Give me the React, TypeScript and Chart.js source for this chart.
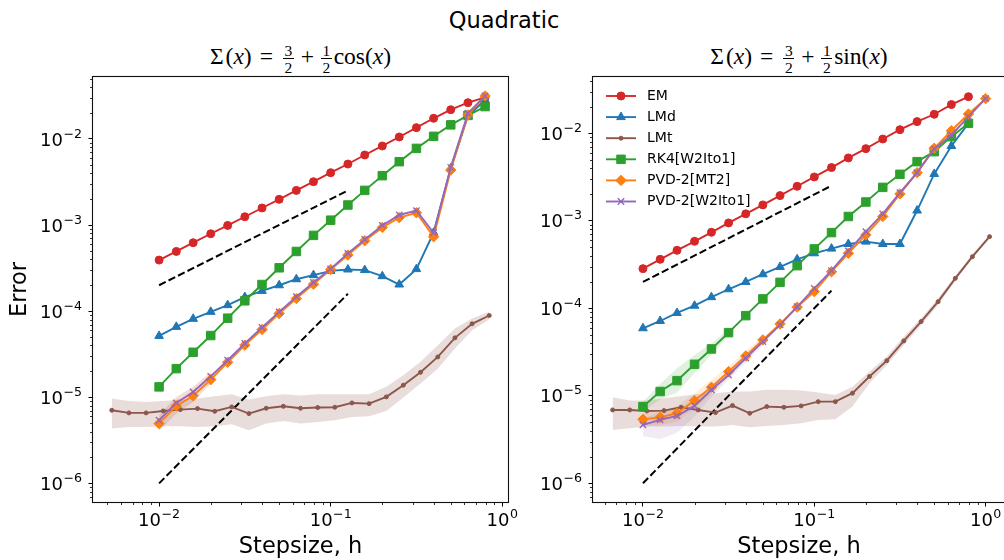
import React, { useEffect, useRef } from "react";
import { Chart, registerables } from "chart.js";
import { drawPoint } from "chart.js/helpers";

Chart.register(...registerables);
Chart.defaults.font.family = '"DejaVu Sans", sans-serif';
Chart.defaults.color = "#000";

// ---------------- data ----------------
const H = [0.01, 0.0126, 0.0158, 0.02, 0.0251, 0.0316, 0.0398, 0.0501, 0.0631, 0.0794, 0.1, 0.126, 0.158, 0.2, 0.251, 0.316, 0.398, 0.501, 0.631, 0.794];
const H_EXT = [0.01, 0.0126, 0.0158, 0.02, 0.0251, 0.0316, 0.0398, 0.0501, 0.0631, 0.0794, 0.1, 0.126, 0.158, 0.2, 0.251, 0.316, 0.398, 0.501, 0.631, 0.794, 1.0];

// left panel: Sigma(x) = 3/2 + 1/2 cos(x)
const COS_EM = [3.92e-4, 4.94e-4, 6.24e-4, 7.93e-4, 9.91e-4, 1.25e-3, 1.58e-3, 1.99e-3, 2.53e-3, 3.19e-3, 4.06e-3, 5.12e-3, 6.52e-3, 8.3e-3, 1.055e-2, 1.355e-2, 1.74e-2, 2.19e-2, 2.64e-2, 3.05e-2];
const COS_LMD = [5.16e-5, 6.57e-5, 8.15e-5, 9.82e-5, 1.175e-4, 1.456e-4, 1.72e-4, 2.0e-4, 2.35e-4, 2.62e-4, 2.94e-4, 3.05e-4, 3.0e-4, 2.55e-4, 2.04e-4, 3.08e-4, 8.15e-4, 4.56e-3, 1.85e-2, 2.84e-2];
const COS_LMT_H = [0.0053, 0.00667, 0.0084, 0.01057, 0.0133, 0.01675, 0.0211, 0.0265, 0.0334, 0.0421, 0.053, 0.0667, 0.084, 0.1057, 0.133, 0.1675, 0.211, 0.265, 0.334, 0.421, 0.53, 0.667, 0.84];
const COS_LMT = [7.06e-6, 6.58e-6, 6.58e-6, 6.93e-6, 7.19e-6, 7.38e-6, 6.87e-6, 7.72e-6, 6.46e-6, 7.45e-6, 7.85e-6, 7.45e-6, 7.59e-6, 7.65e-6, 8.59e-6, 8.43e-6, 1.01e-5, 1.38e-5, 1.95e-5, 2.94e-5, 4.9e-5, 7.13e-5, 8.91e-5];
const COS_LMT_HI = [9.64e-6, 9.06e-6, 8.82e-6, 9.06e-6, 9.4e-6, 9.64e-6, 1.03e-5, 1.08e-5, 9.4e-6, 1.03e-5, 1.08e-5, 1.045e-5, 1.08e-5, 1.08e-5, 1.08e-5, 1.08e-5, 1.32e-5, 1.8e-5, 2.58e-5, 4.03e-5, 6.28e-5, 8.22e-5, 9.82e-5];
const COS_LMT_LO = [4.33e-6, 4.52e-6, 4.52e-6, 4.6e-6, 4.6e-6, 4.52e-6, 4.6e-6, 4.85e-6, 4.13e-6, 4.94e-6, 5.31e-6, 4.94e-6, 5.16e-6, 5.41e-6, 5.91e-6, 6.01e-6, 6.93e-6, 9.91e-6, 1.44e-5, 2.15e-5, 3.68e-5, 6.01e-5, 8.0e-5];
const COS_RK4 = [1.32e-5, 2.15e-5, 3.33e-5, 5.21e-5, 8.29e-5, 1.32e-4, 2.04e-4, 3.19e-4, 4.94e-4, 7.59e-4, 1.14e-3, 1.71e-3, 2.53e-3, 3.75e-3, 5.45e-3, 7.78e-3, 1.074e-2, 1.46e-2, 1.88e-2, 2.38e-2];
const COS_PVD_MT2 = [4.94e-6, 7.93e-6, 1.04e-5, 1.6e-5, 2.55e-5, 4.03e-5, 6.12e-5, 9.4e-5, 1.4e-4, 2.06e-4, 3.05e-4, 4.48e-4, 6.58e-4, 9.4e-4, 1.22e-3, 1.39e-3, 7.31e-4, 4.36e-3, 1.9e-2, 3.16e-2];
const COS_PVD_W2 = [5.41e-6, 8.59e-6, 1.15e-5, 1.75e-5, 2.69e-5, 4.21e-5, 6.46e-5, 9.82e-5, 1.47e-4, 2.15e-4, 3.1e-4, 4.69e-4, 6.81e-4, 9.91e-4, 1.31e-3, 1.47e-3, 8.15e-4, 4.69e-3, 1.99e-2, 3.16e-2];
const COS_PVD_HI = [6.18e-6, 1.01e-5, 1.32e-5, 1.97e-5];
const COS_PVD_LO = [4.06e-6, 6.46e-6, 8.83e-6, 1.44e-5];

// right panel: Sigma(x) = 3/2 + 1/2 sin(x)
const SIN_EM = [2.84e-4, 3.63e-4, 4.6e-4, 5.83e-4, 7.39e-4, 9.45e-4, 1.2e-3, 1.52e-3, 1.94e-3, 2.48e-3, 3.17e-3, 4.06e-3, 5.23e-3, 6.68e-3, 8.61e-3, 1.1e-2, 1.36e-2, 1.65e-2, 2.13e-2, 2.62e-2];
const SIN_LMD = [5.91e-5, 7.16e-5, 8.84e-5, 1.07e-4, 1.34e-4, 1.65e-4, 2.0e-4, 2.45e-4, 2.97e-4, 3.63e-4, 4.25e-4, 4.81e-4, 5.43e-4, 5.78e-4, 5.43e-4, 5.43e-4, 1.31e-3, 3.43e-3, 7.16e-3, 1.3e-2];
const SIN_LMT_H = [0.00665, 0.00837, 0.01054, 0.01327, 0.0167, 0.021, 0.0265, 0.0333, 0.042, 0.0528, 0.0665, 0.0837, 0.1054, 0.1327, 0.167, 0.21, 0.265, 0.333, 0.42, 0.528, 0.665, 0.837, 1.054];
const SIN_LMT = [6.89e-6, 6.89e-6, 6.71e-6, 6.77e-6, 7.39e-6, 6.89e-6, 6.43e-6, 7.73e-6, 6.31e-6, 7.52e-6, 7.39e-6, 7.66e-6, 8.57e-6, 8.57e-6, 1.07e-5, 1.66e-5, 2.52e-5, 4.24e-5, 7.05e-5, 1.19e-4, 2.2e-4, 3.89e-4, 6.59e-4];
const SIN_LMT_HI = [9.61e-6, 8.81e-6, 8.81e-6, 9.36e-6, 9.95e-6, 1.05e-5, 1.07e-5, 1.12e-5, 1.12e-5, 1.17e-5, 1.17e-5, 1.15e-5, 1.09e-5, 1.02e-5, 1.27e-5, 1.89e-5, 2.81e-5, 4.75e-5, 7.69e-5, 1.3e-4, 2.34e-4, 4.14e-4, 6.89e-4];
const SIN_LMT_LO = [4.07e-6, 4.26e-6, 4.45e-6, 4.45e-6, 4.52e-6, 4.45e-6, 4.45e-6, 4.65e-6, 4.37e-6, 4.52e-6, 4.65e-6, 4.85e-6, 5.3e-6, 5.38e-6, 7.52e-6, 1.39e-5, 2.25e-5, 3.81e-5, 6.46e-5, 1.09e-4, 2.07e-4, 3.7e-4, 6.31e-4];
const SIN_RK4 = [7.52e-6, 1.12e-5, 1.49e-5, 2.29e-5, 3.43e-5, 5.27e-5, 8.24e-5, 1.28e-4, 1.98e-4, 3.07e-4, 4.77e-4, 7.33e-4, 1.12e-3, 1.64e-3, 2.41e-3, 3.4e-3, 4.74e-3, 6.17e-3, 9.16e-3, 1.3e-2];
const SIN_RK4_HI = [8.57e-6, 1.36e-5, 2.06e-5, 2.93e-5, 3.98e-5, 5.75e-5];
const SIN_RK4_LO = [6.59e-6, 9.12e-6, 1.09e-5, 1.81e-5, 2.95e-5, 4.83e-5];
const SIN_PVD_MT2 = [5.38e-6, 5.67e-6, 6.31e-6, 8.81e-6, 1.25e-5, 1.89e-5, 2.85e-5, 4.35e-5, 6.62e-5, 1.03e-4, 1.55e-4, 2.62e-4, 4.25e-4, 6.89e-4, 1.12e-3, 2.03e-3, 3.55e-3, 6.74e-3, 1.07e-2, 1.66e-2, 2.49e-2];
const SIN_PVD_MT2_HI = [6.31e-6, 6.76e-6, 7.66e-6, 1.07e-5, 1.52e-5, 2.19e-5, 3.2e-5, 4.75e-5];
const SIN_PVD_MT2_LO = [4.52e-6, 4.65e-6, 5.07e-6, 7.19e-6, 1.05e-5, 1.63e-5, 2.57e-5, 3.98e-5];
const SIN_PVD_W2 = [4.65e-6, 5.3e-6, 5.89e-6, 7.66e-6, 1.17e-5, 1.73e-5, 2.69e-5, 4.16e-5, 6.46e-5, 1.04e-4, 1.69e-4, 2.69e-4, 4.52e-4, 7.52e-4, 1.2e-3, 2.1e-3, 3.55e-3, 6.62e-3, 9.57e-3, 1.55e-2, 2.49e-2];
const SIN_PVD_W2_HI = [5.53e-6, 6.43e-6, 7.02e-6, 9.12e-6, 1.33e-5, 1.97e-5, 3.01e-5, 4.54e-5];
const SIN_PVD_W2_LO = [3.48e-6, 3.18e-6, 3.79e-6, 5.78e-6, 9.77e-6, 1.52e-5, 2.39e-5, 3.81e-5];

// reference slopes (order 1 and order 2)
const REF_H = [0.01, 0.126];
const REF_ORDER1 = [2.0e-4, 2.52e-3];
const REF_ORDER2 = [1.0e-6, 1.59e-4];

// tick labels (10^exponent)
const X_DECADES = [0.01, 0.1, 1];
const X_DECADE_EXPS = ["\u22122", "\u22121", "0"];
const Y_DECADES = [1e-6, 1e-5, 1e-4, 1e-3, 1e-2];
const Y_DECADE_EXPS = ["\u22126", "\u22125", "\u22124", "\u22123", "\u22122"];
const TICK_BASE = "10";

const TITLE = "Quadratic";
const X_LABEL = "Stepsize, h";
const Y_LABEL = "Error";

// ---------------- styling ----------------
const C = {
  red: "#d62728",
  blue: "#1f77b4",
  brown: "#8c564b",
  green: "#2ca02c",
  orange: "#ff7f0e",
  purple: "#9467bd",
};

const pts = (xs: number[], ys: number[]) => ys.map((y, i) => ({ x: xs[i], y }));

function series(label: string, xs: number[], ys: number[], color: string, style: string, radius: number, order: number, pbw = 1) {
  return {
    label,
    data: pts(xs, ys),
    borderColor: color,
    backgroundColor: color,
    borderWidth: 1.9,
    pointStyle: style,
    pointRadius: radius,
    pointHoverRadius: radius,
    pointBorderColor: color,
    pointBackgroundColor: color,
    pointBorderWidth: pbw,
    fill: false,
    tension: 0,
    order,
  };
}

function band(xs: number[], lo: number[], hi: number[], rgba: string, order: number) {
  return [
    {
      label: "_band",
      data: pts(xs, hi),
      borderColor: "rgba(0,0,0,0)",
      borderWidth: 0,
      pointRadius: 0,
      backgroundColor: rgba,
      fill: "+1",
      tension: 0,
      order,
    },
    {
      label: "_band",
      data: pts(xs, lo),
      borderColor: "rgba(0,0,0,0)",
      borderWidth: 0,
      pointRadius: 0,
      backgroundColor: "rgba(0,0,0,0)",
      fill: false,
      tension: 0,
      order,
    },
  ];
}

function refLine(ys: number[]) {
  return {
    label: "_ref",
    data: pts(REF_H, ys),
    borderColor: "#000",
    borderWidth: 2,
    borderDash: [7.4, 3.2],
    pointRadius: 0,
    fill: false,
    tension: 0,
    order: 7,
  };
}

const isDecade = (v: number) => Math.abs(Math.log10(v) - Math.round(Math.log10(v))) < 1e-9;

function logTicks(min: number, max: number) {
  const out: { value: number }[] = [];
  const e0 = Math.floor(Math.log10(min));
  const e1 = Math.ceil(Math.log10(max));
  for (let e = e0; e <= e1; e++) {
    for (let m = 1; m <= 9; m++) {
      const v = m * Math.pow(10, e);
      if (v >= min * (1 - 1e-9) && v <= max * (1 + 1e-9)) out.push({ value: v });
    }
  }
  return out;
}

function expFor(v: number, decades: number[], exps: string[]) {
  for (let i = 0; i < decades.length; i++) if (Math.abs(v / decades[i] - 1) < 1e-6) return exps[i];
  return null;
}

const BASE_FONT = '18px "DejaVu Sans"';
const EXP_FONT = '12.6px "DejaVu Sans"';
const EXP_RAISE = 8;

function drawPow(ctx: CanvasRenderingContext2D, exp: string, x: number, baseline: number, align: "center" | "right") {
  ctx.font = BASE_FONT;
  const wb = ctx.measureText(TICK_BASE).width;
  ctx.font = EXP_FONT;
  const we = ctx.measureText(exp).width;
  const total = wb + we + 0.5;
  const x0 = align === "center" ? x - total / 2 : x - total;
  ctx.textAlign = "left";
  ctx.textBaseline = "alphabetic";
  ctx.font = BASE_FONT;
  ctx.fillText(TICK_BASE, x0, baseline);
  ctx.font = EXP_FONT;
  ctx.fillText(exp, x0 + wb + 0.5, baseline - EXP_RAISE);
}

const framePlugin = {
  id: "frameMinor",
  afterDraw(chart: any) {
    const { ctx, chartArea: a, scales } = chart;
    ctx.save();
    ctx.strokeStyle = "#000";
    ctx.lineWidth = 0.8;
    for (const t of scales.x.ticks) {
      if (isDecade(t.value)) continue;
      const px = Math.round(scales.x.getPixelForValue(t.value)) + 0.5;
      ctx.beginPath();
      ctx.moveTo(px, a.bottom);
      ctx.lineTo(px, a.bottom + 3);
      ctx.stroke();
    }
    for (const t of scales.y.ticks) {
      if (isDecade(t.value)) continue;
      const py = Math.round(scales.y.getPixelForValue(t.value)) + 0.5;
      ctx.beginPath();
      ctx.moveTo(a.left, py);
      ctx.lineTo(a.left - 3, py);
      ctx.stroke();
    }
    ctx.lineWidth = 1.1;
    ctx.strokeStyle = "#111";
    ctx.strokeRect(a.left - 0.5, a.top - 0.5, a.right - a.left + 1, a.bottom - a.top + 1);

    // tick labels
    ctx.fillStyle = "#000";
    for (const t of scales.x.ticks) {
      const e = expFor(t.value, X_DECADES, X_DECADE_EXPS);
      if (e === null) continue;
      drawPow(ctx, e, scales.x.getPixelForValue(t.value), a.bottom + 23.5, "center");
    }
    for (const t of scales.y.ticks) {
      const e = expFor(t.value, Y_DECADES, Y_DECADE_EXPS);
      if (e === null) continue;
      drawPow(ctx, e, a.left - 11, scales.y.getPixelForValue(t.value) + 6.6, "right");
    }
    ctx.restore();
  },
};

function makeLegendPlugin(show: boolean) {
  return {
    id: "insideLegend",
    afterDraw(chart: any) {
      if (!show) return;
      const { ctx, chartArea: a } = chart;
      const items = chart.data.datasets.filter((d: any) => !String(d.label).startsWith("_"));
      items.forEach((d: any, i: number) => {
        const yy = a.top + 19 + i * 21.1;
        const x0 = a.left + 13;
        ctx.save();
        ctx.strokeStyle = d.borderColor;
        ctx.fillStyle = d.pointBackgroundColor;
        ctx.lineWidth = d.borderWidth;
        ctx.setLineDash([]);
        ctx.beginPath();
        ctx.moveTo(x0, yy);
        ctx.lineTo(x0 + 30, yy);
        ctx.stroke();
        ctx.lineWidth = d.pointBorderWidth;
        drawPoint(ctx, { pointStyle: d.pointStyle, radius: d.pointRadius, rotation: 0, borderWidth: d.pointBorderWidth } as any, x0 + 15, yy);
        ctx.fillStyle = "#000";
        ctx.font = '14px "DejaVu Sans"';
        ctx.textBaseline = "middle";
        ctx.textAlign = "left";
        ctx.fillText(d.label, a.left + 54, yy);
        ctx.restore();
      });
    },
  };
}

type PanelData = {
  em: number[]; lmd: number[]; lmtH: number[]; lmt: number[]; lmtHi: number[]; lmtLo: number[];
  rk4: number[]; mt2: number[]; w2: number[]; hMain: number[]; hExt: number[];
  extraBands: any[];
};

function buildDatasets(p: PanelData) {
  const bands = [
    ...band(p.lmtH, p.lmtLo, p.lmtHi, "rgba(140,86,75,0.2)", 20),
    ...p.extraBands,
  ];
  return [
    series("EM", p.hMain, p.em, C.red, "circle", 4, 6),
    series("LMd", p.hMain, p.lmd, C.blue, "triangle", 5, 5),
    series("LMt", p.lmtH, p.lmt, C.brown, "circle", 2, 4),
    series("RK4[W2Ito1]", p.hMain, p.rk4, C.green, "rect", 6, 3),
    series("PVD-2[MT2]", p.hExt, p.mt2, C.orange, "rectRot", 5.2, 2),
    series("PVD-2[W2Ito1]", p.hExt, p.w2, C.purple, "crossRot", 4.5, 1, 1.4),
    refLine(REF_ORDER1),
    refLine(REF_ORDER2),
    ...bands,
  ];
}

type Spec = {
  left: number; width: number;
  pad: { left: number; right: number; top: number; bottom: number };
  yAxisWidth: number;
  xMin: number; xMax: number; yMin: number; yMax: number;
  yTitle: boolean; legend: boolean;
  data: PanelData;
};

function makeConfig(s: Spec): any {
  return {
    type: "line",
    data: { datasets: buildDatasets(s.data) },
    options: {
      animation: false,
      responsive: false,
      maintainAspectRatio: false,
      devicePixelRatio: 1,
      layout: { padding: s.pad, autoPadding: false },
      plugins: { legend: { display: false }, tooltip: { enabled: false } },
      scales: {
        x: {
          type: "logarithmic",
          position: "bottom",
          min: s.xMin,
          max: s.xMax,
          bounds: "data",
          afterFit: (sc: any) => { sc.height = 58; },
          afterBuildTicks: (sc: any) => { sc.ticks = logTicks(s.xMin, s.xMax); },
          ticks: { autoSkip: false, maxRotation: 0, minRotation: 0, padding: 2, callback: () => "" },
          grid: {
            display: true, drawOnChartArea: false, drawTicks: true, tickLength: 4.5, tickWidth: 1,
            tickColor: (c: any) => (c.tick && isDecade(c.tick.value) ? "#000" : "rgba(0,0,0,0)"),
          },
          border: { display: false },
          title: { display: true, text: X_LABEL, color: "#000", font: { size: 22.5, family: '"DejaVu Sans"' }, padding: { top: 0, bottom: -1 } },
        },
        y: {
          type: "logarithmic",
          position: "left",
          min: s.yMin,
          max: s.yMax,
          bounds: "data",
          afterFit: (sc: any) => { sc.width = s.yAxisWidth; },
          afterBuildTicks: (sc: any) => { sc.ticks = logTicks(s.yMin, s.yMax); },
          ticks: { autoSkip: false, padding: 7, callback: () => "" },
          grid: {
            display: true, drawOnChartArea: false, drawTicks: true, tickLength: 4.5, tickWidth: 1,
            tickColor: (c: any) => (c.tick && isDecade(c.tick.value) ? "#000" : "rgba(0,0,0,0)"),
          },
          border: { display: false },
          title: { display: s.yTitle, text: Y_LABEL, color: "#000", font: { size: 22.5, family: '"DejaVu Sans"' }, padding: { top: 4, bottom: 0 } },
        },
      },
    },
    plugins: [framePlugin, makeLegendPlugin(s.legend)],
  };
}

const LEFT_SPEC: Spec = {
  left: 0, width: 520,
  pad: { left: 3, right: 12, top: 77, bottom: 0 },
  yAxisWidth: 90,
  xMin: 0.00412, xMax: 1.08, yMin: 6.07e-7, yMax: 0.0525,
  yTitle: true, legend: false,
  data: {
    em: COS_EM, lmd: COS_LMD, lmtH: COS_LMT_H, lmt: COS_LMT, lmtHi: COS_LMT_HI, lmtLo: COS_LMT_LO,
    rk4: COS_RK4, mt2: COS_PVD_MT2, w2: COS_PVD_W2, hMain: H, hExt: H,
    extraBands: [
      ...band(H, COS_PVD_LO, COS_PVD_HI, "rgba(255,127,14,0.15)", 21),
      ...band(H, COS_PVD_LO, COS_PVD_HI, "rgba(148,103,189,0.12)", 21),
    ],
  },
};

const RIGHT_SPEC: Spec = {
  left: 520, width: 485,
  pad: { left: 0, right: 0, top: 77, bottom: 0 },
  yAxisWidth: 73,
  xMin: 0.00511, xMax: 1.297, yMin: 6.11e-7, yMax: 0.044,
  yTitle: false, legend: true,
  data: {
    em: SIN_EM, lmd: SIN_LMD, lmtH: SIN_LMT_H, lmt: SIN_LMT, lmtHi: SIN_LMT_HI, lmtLo: SIN_LMT_LO,
    rk4: SIN_RK4, mt2: SIN_PVD_MT2, w2: SIN_PVD_W2, hMain: H, hExt: H_EXT,
    extraBands: [
      ...band(H, SIN_RK4_LO, SIN_RK4_HI, "rgba(44,160,44,0.15)", 21),
      ...band(H_EXT, SIN_PVD_MT2_LO, SIN_PVD_MT2_HI, "rgba(255,127,14,0.15)", 21),
      ...band(H_EXT, SIN_PVD_W2_LO, SIN_PVD_W2_HI, "rgba(148,103,189,0.13)", 21),
    ],
  },
};

function Panel({ spec }: { spec: Spec }) {
  const ref = useRef<HTMLCanvasElement>(null);
  useEffect(() => {
    const chart = new Chart(ref.current as HTMLCanvasElement, makeConfig(spec));
    return () => chart.destroy();
  }, []);
  return (
    <canvas
      ref={ref}
      width={spec.width}
      height={560}
      style={{ position: "absolute", left: spec.left, top: 0, width: spec.width, height: 560 }}
    />
  );
}

function Frac({ n, d }: { n: string; d: string }) {
  return (
    <span
      style={{
        display: "inline-flex",
        flexDirection: "column",
        alignItems: "center",
        verticalAlign: "8px",
        fontSize: 15.5,
        lineHeight: "13px",
        margin: "0 2px",
      }}
    >
      <span style={{ borderBottom: "1px solid #000", padding: "0 1.5px 1px" }}>{n}</span>
      <span style={{ paddingTop: 2 }}>{d}</span>
    </span>
  );
}

function SubTitle({ cx, fn }: { cx: number; fn: string }) {
  const gap = (w: number) => <span style={{ display: "inline-block", width: w }} />;
  return (
    <div
      style={{
        position: "absolute",
        left: cx - 200,
        width: 400,
        top: 41,
        textAlign: "center",
        fontFamily: '"Liberation Serif", serif',
        fontSize: 23.5,
        lineHeight: "30px",
        color: "#000",
        whiteSpace: "nowrap",
      }}
    >
      <span>{"\u03A3"}</span>
      {gap(2)}
      <span>(</span>
      <i>x</i>
      <span>)</span>
      {gap(8)}
      <span>=</span>
      {gap(8)}
      <Frac n="3" d="2" />
      {gap(5)}
      <span>+</span>
      {gap(5)}
      <Frac n="1" d="2" />
      <span>{fn}(</span>
      <i>x</i>
      <span>)</span>
    </div>
  );
}

export default function App() {
  return (
    <div
      style={{
        position: "absolute",
        left: 0,
        top: 0,
        width: 1004,
        height: 560,
        overflow: "hidden",
        background: "#fff",
      }}
    >
      <div
        style={{
          position: "absolute",
          left: 0,
          width: 1008,
          top: 6,
          textAlign: "center",
          fontFamily: '"DejaVu Sans", sans-serif',
          fontSize: 22.5,
          lineHeight: "28px",
          color: "#000",
        }}
      >
        {TITLE}
      </div>
      <SubTitle cx={300.5} fn="cos" />
      <SubTitle cx={799} fn="sin" />
      <Panel spec={LEFT_SPEC} />
      <Panel spec={RIGHT_SPEC} />
    </div>
  );
}
